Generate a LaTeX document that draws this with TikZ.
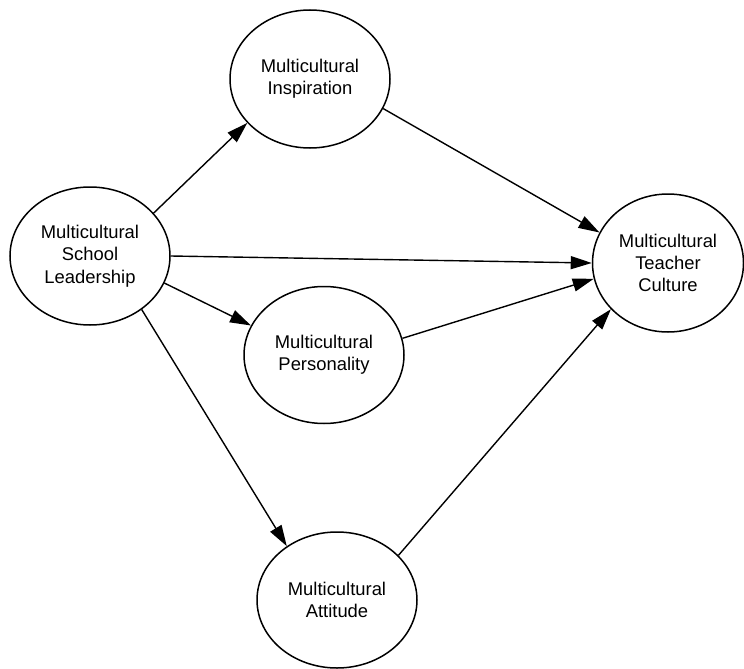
\documentclass[tikz,border=0pt]{standalone}
\usepackage{fontspec}
\setmainfont{Liberation Sans}
\usetikzlibrary{shapes.geometric,arrows.meta}
\tikzset{
  construct/.style={ellipse, draw=black, line width=1.5pt, minimum width=160pt, minimum height=138pt, inner sep=0pt, align=center, font=\fontsize{18.4}{22.3}\selectfont},
  path/.style={draw=black, line width=1.4pt, -{Triangle[length=21pt,width=13pt]}}
}
\begin{document}
\begin{tikzpicture}[x=1pt,y=-1pt]
\useasboundingbox (0,0) rectangle (744,669);
\node[construct] (insp) at (310,79) {Multicultural\\Inspiration};
\node[construct] (lead) at (90,256) {Multicultural\\School\\Leadership};
\node[construct, minimum width=151pt] (teach) at (668,263) {Multicultural\\Teacher\\Culture};
\node[construct, minimum height=137pt] (pers) at (324,355) {Multicultural\\Personality};
\node[construct, minimum height=136pt] (att) at (337,600) {Multicultural\\Attitude};
\draw[path] (lead.34) -- (insp.215);
\draw[path] (insp.338.6) -- (teach.156.8);
\draw[path] (lead.0) -- (teach.180);
\draw[path] (lead.340) -- (pers.158.5);
\draw[path] (pers.12.2) -- (teach.192.8);
\draw[path] (lead.314) -- (att.133.3);
\draw[path] (att.36.4) -- (teach.219.9);
\end{tikzpicture}
\end{document}
